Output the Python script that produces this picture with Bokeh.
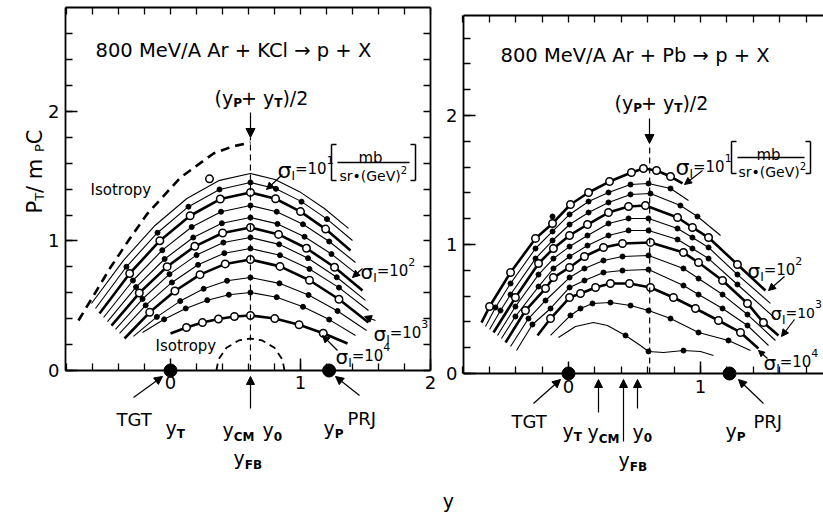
import math
from bokeh.plotting import figure
from bokeh.layouts import row
from bokeh.models import Label, Arrow, NormalHead, FixedTicker, LinearAxis, Range1d
from bokeh.embed import file_html
from bokeh.resources import INLINE

FONT = "DejaVu Sans"

# ---------------- Left panel: 800 MeV/A Ar + KCl -> p + X ----------------
# contour lines of sigma_I, rapidity y and P_T/m_p c (top curve first)
KCL_Y01 = [-0.608, -0.363, -0.119, 0.126, 0.370, 0.615, 0.804, 0.992, 1.181, 1.369]
KCL_P01 = [0.517, 0.849, 1.120, 1.328, 1.466, 1.521, 1.475, 1.381, 1.253, 1.097]
KCL_Y02 = [-0.577, -0.339, -0.100, 0.138, 0.377, 0.615, 0.811, 1.008, 1.204, 1.400]
KCL_P02 = [0.479, 0.801, 1.064, 1.265, 1.398, 1.452, 1.403, 1.304, 1.169, 1.004]
KCL_Y03 = [-0.546, -0.314, -0.082, 0.151, 0.383, 0.615, 0.808, 1.000, 1.193, 1.385]
KCL_P03 = [0.440, 0.749, 1.002, 1.195, 1.324, 1.375, 1.326, 1.227, 1.092, 0.927]
KCL_Y04 = [-0.515, -0.289, -0.063, 0.163, 0.389, 0.615, 0.817, 1.019, 1.221, 1.423]
KCL_P04 = [0.409, 0.695, 0.929, 1.108, 1.226, 1.274, 1.226, 1.129, 0.996, 0.834]
KCL_Y05 = [-0.485, -0.265, -0.045, 0.175, 0.395, 0.615, 0.823, 1.031, 1.238, 1.446]
KCL_P05 = [0.378, 0.644, 0.861, 1.027, 1.137, 1.181, 1.132, 1.033, 0.899, 0.734]
KCL_Y06 = [-0.454, -0.240, -0.026, 0.187, 0.401, 0.615, 0.831, 1.046, 1.262, 1.477]
KCL_P06 = [0.347, 0.598, 0.802, 0.959, 1.062, 1.104, 1.051, 0.944, 0.797, 0.618]
KCL_Y07 = [-0.423, -0.215, -0.008, 0.200, 0.407, 0.615, 0.836, 1.058, 1.279, 1.500]
KCL_P07 = [0.317, 0.552, 0.744, 0.891, 0.988, 1.027, 0.974, 0.867, 0.720, 0.541]
KCL_Y08 = [-0.392, -0.191, 0.011, 0.212, 0.414, 0.615, 0.842, 1.069, 1.296, 1.523]
KCL_P08 = [0.286, 0.503, 0.680, 0.816, 0.906, 0.942, 0.890, 0.784, 0.640, 0.463]
KCL_Y09 = [-0.354, -0.160, 0.034, 0.227, 0.421, 0.615, 0.842, 1.069, 1.296, 1.523]
KCL_P09 = [0.247, 0.449, 0.614, 0.740, 0.823, 0.857, 0.804, 0.697, 0.550, 0.371]
KCL_Y10 = [-0.285, -0.105, 0.075, 0.255, 0.435, 0.615, 0.838, 1.062, 1.285, 1.508]
KCL_P10 = [0.263, 0.414, 0.536, 0.631, 0.693, 0.718, 0.673, 0.583, 0.460, 0.309]
KCL_Y11 = [-0.215, -0.049, 0.117, 0.283, 0.449, 0.615, 0.817, 1.019, 1.221, 1.423]
KCL_P11 = [0.293, 0.395, 0.479, 0.543, 0.585, 0.602, 0.566, 0.492, 0.393, 0.270]
KCL_Y12 = [0.000, 0.123, 0.246, 0.369, 0.492, 0.615, 0.802, 0.989, 1.175, 1.362]
KCL_P12 = [0.286, 0.332, 0.370, 0.398, 0.417, 0.425, 0.401, 0.353, 0.288, 0.208]
KCL_THICK = [False, False, True, False, False, True, False, False, True, False, False, True]
KCL_MARKED = [False] + [True] * 11

KCL_ISO_Y = [-0.708, -0.585, -0.462, -0.323, -0.177, 0.077, 0.331, 0.477, 0.615]
KCL_ISO_P = [0.386, 0.590, 0.795, 1.004, 1.212, 1.490, 1.676, 1.730, 1.761]
KCL_ISO2_Y = [0.353, 0.369, 0.430, 0.525, 0.615, 0.705, 0.800, 0.861, 0.877]
KCL_ISO2_P = [0.0, 0.084, 0.175, 0.232, 0.247, 0.232, 0.175, 0.084, 0.0]
KCL_EXTRA_Y = [0.30]
KCL_EXTRA_P = [1.48]

# ---------------- Right panel: 800 MeV/A Ar + Pb -> p + X ----------------
PB_Y01 = [-0.659, -0.598, -0.439, -0.25, -0.121, 0.015, 0.152, 0.311, 0.477, 0.568, 0.667, 0.773, 0.864]
PB_P01 = [0.395, 0.519, 0.783, 1.047, 1.163, 1.310, 1.403, 1.488, 1.558, 1.589, 1.574, 1.527, 1.473]
PB_Y02 = [-0.629, -0.553, -0.439, -0.25, -0.121, 0.008, 0.152, 0.303, 0.470, 0.606, 0.773, 0.909]
PB_P02 = [0.364, 0.512, 0.698, 0.969, 1.101, 1.233, 1.333, 1.403, 1.465, 1.473, 1.434, 1.341]
PB_Y03 = [-0.598, -0.515, -0.439, -0.25, -0.121, 0.008, 0.152, 0.303, 0.470, 0.621, 0.848, 0.977, 1.152]
PB_P03 = [0.341, 0.488, 0.612, 0.891, 1.031, 1.155, 1.248, 1.326, 1.388, 1.395, 1.302, 1.217, 1.070]
PB_Y04 = [-0.568, -0.402, -0.227, -0.114, 0.008, 0.144, 0.303, 0.455, 0.583, 0.826, 0.939, 1.061, 1.280, 1.492]
PB_P04 = [0.318, 0.589, 0.853, 0.969, 1.070, 1.155, 1.248, 1.295, 1.302, 1.209, 1.132, 1.054, 0.845, 0.643]
PB_Y05 = [-0.538, -0.402, -0.227, -0.114, 0.008, 0.144, 0.303, 0.455, 0.606, 0.826, 0.939, 1.061, 1.280, 1.530]
PB_P05 = [0.295, 0.519, 0.767, 0.891, 0.984, 1.070, 1.163, 1.202, 1.202, 1.124, 1.054, 0.977, 0.767, 0.543]
PB_Y06 = [-0.508, -0.402, -0.227, -0.114, 0.008, 0.144, 0.303, 0.455, 0.606, 0.826, 0.939, 1.061, 1.280, 1.568]
PB_P06 = [0.271, 0.442, 0.674, 0.814, 0.907, 0.992, 1.070, 1.109, 1.109, 1.039, 0.969, 0.891, 0.690, 0.426]
PB_Y07 = [-0.477, -0.326, -0.174, -0.114, 0.008, 0.121, 0.265, 0.409, 0.621, 0.871, 0.985, 1.167, 1.356, 1.477, 1.591]
PB_P07 = [0.240, 0.488, 0.659, 0.744, 0.822, 0.907, 0.977, 1.008, 1.016, 0.938, 0.860, 0.721, 0.543, 0.395, 0.295]
PB_Y08 = [-0.439, -0.303, -0.174, 0.008, 0.121, 0.265, 0.409, 0.606, 0.871, 0.985, 1.167, 1.356, 1.568]
PB_P08 = [0.209, 0.426, 0.566, 0.744, 0.814, 0.876, 0.907, 0.915, 0.814, 0.736, 0.612, 0.457, 0.256]
PB_Y09 = [-0.394, -0.273, -0.136, 0.008, 0.121, 0.265, 0.409, 0.606, 0.871, 0.985, 1.167, 1.356, 1.515]
PB_P09 = [0.178, 0.380, 0.504, 0.667, 0.721, 0.783, 0.798, 0.806, 0.682, 0.612, 0.504, 0.372, 0.217]
PB_Y10 = [-0.235, -0.136, 0.008, 0.091, 0.205, 0.318, 0.462, 0.621, 0.795, 0.962, 1.136, 1.303, 1.439]
PB_P10 = [0.295, 0.426, 0.589, 0.620, 0.667, 0.698, 0.698, 0.667, 0.589, 0.504, 0.411, 0.318, 0.194]
PB_Y11 = [-0.136, 0.015, 0.091, 0.182, 0.318, 0.470, 0.606, 0.773, 0.985, 1.212, 1.379]
PB_P11 = [0.295, 0.450, 0.504, 0.543, 0.550, 0.527, 0.488, 0.426, 0.318, 0.256, 0.178]
PB_Y12 = [-0.076, 0.053, 0.189, 0.295, 0.432, 0.545, 0.606, 0.720, 0.871, 1.000, 1.098]
PB_P12 = [0.279, 0.364, 0.395, 0.372, 0.295, 0.217, 0.171, 0.163, 0.178, 0.171, 0.140]
PB_THICK = [True, False, False, True, False, False, True, False, False, True, False, False]
PB_MARKED = [True] * 11 + [False]
PB_W_DOTS_Y = [0.432, 0.606, 0.871]
PB_W_DOTS_P = [0.295, 0.171, 0.178]
PB_EXTRA_Y = [-0.121]
PB_EXTRA_P = [1.217]

Y_TGT = 0.0
Y_PRJ = 1.22
Y_MID = 0.615

KCL_CURVES = [(KCL_Y01, KCL_P01), (KCL_Y02, KCL_P02), (KCL_Y03, KCL_P03), (KCL_Y04, KCL_P04),
              (KCL_Y05, KCL_P05), (KCL_Y06, KCL_P06), (KCL_Y07, KCL_P07), (KCL_Y08, KCL_P08),
              (KCL_Y09, KCL_P09), (KCL_Y10, KCL_P10), (KCL_Y11, KCL_P11), (KCL_Y12, KCL_P12)]
PB_CURVES = [(PB_Y01, PB_P01), (PB_Y02, PB_P02), (PB_Y03, PB_P03), (PB_Y04, PB_P04),
             (PB_Y05, PB_P05), (PB_Y06, PB_P06), (PB_Y07, PB_P07), (PB_Y08, PB_P08),
             (PB_Y09, PB_P09), (PB_Y10, PB_P10), (PB_Y11, PB_P11), (PB_Y12, PB_P12)]

# ---------------- helpers ----------------
EM = {' ': 0.318, '(': 0.390, ')': 0.390, '+': 0.838, '/': 0.337, '=': 0.838,
      '0': 0.636, '1': 0.636, '2': 0.636, '3': 0.636, '4': 0.636, '8': 0.636,
      'A': 0.684, 'B': 0.686, 'C': 0.698, 'F': 0.575, 'G': 0.775, 'I': 0.295, 'J': 0.295,
      'K': 0.656, 'M': 0.863, 'P': 0.603, 'R': 0.695, 'T': 0.611, 'V': 0.684, 'X': 0.685,
      'b': 0.635, 'e': 0.615, 'l': 0.278, 'm': 0.974, 'p': 0.635, 'r': 0.411, 's': 0.521,
      'y': 0.592, 'o': 0.612, 't': 0.392, 'σ': 0.634, '•': 0.590, '→': 0.838}


def text_w(s, size, bold=False):
    return sum(EM.get(ch, 0.62) for ch in s) * size * (1.1 if bold else 1.0)


# reference-pixel -> panel data coordinates (for annotation placement)
def c1(px, py):
    return ((px - 170) / 130.0, (370 - py) / 129.5)


def c2(px, py):
    return ((px - 568) / 132.0, (373 - py) / 129.0)


def put(p, conv, px, py, text, size, bold=False, align="left", angle=0.0):
    x, y = conv(px, py)
    p.add_layout(Label(x=x, y=y, text=text, text_font=FONT, text_font_size=f"{size}px",
                       text_font_style="bold" if bold else "normal", text_align=align,
                       text_baseline="alphabetic", angle=angle, text_color="black"))


def rich(p, conv, px, py, pieces):
    off = 0.0
    for piece in pieces:
        text, size, dy = piece[0], piece[1], piece[2]
        bold = piece[3] if len(piece) > 3 else False
        put(p, conv, px + off, py - dy, text, size, bold)
        off += text_w(text, size, bold)


def arrow(p, conv, a, b, head=True, width=1.2, hs=8):
    x0, y0 = conv(*a)
    x1, y1 = conv(*b)
    p.add_layout(Arrow(x_start=x0, y_start=y0, x_end=x1, y_end=y1, line_width=width,
                       line_color="black",
                       end=NormalHead(size=hs, fill_color="black", line_color="black",
                                      line_width=1) if head else None))


X_MINOR = [-0.8, -0.6, -0.4, -0.2, 0, 0.2, 0.4, 0.6, 0.8, 1.0, 1.2, 1.4, 1.6, 1.8, 2.0]
Y_MINOR = [0, 0.2, 0.4, 0.6, 0.8, 1.0, 1.2, 1.4, 1.6, 1.8, 2.0, 2.2, 2.4, 2.6]


def make_fig(width, xr, yr, box, right_axis):
    x0, x1, y0, y1 = box
    p = figure(width=width, height=514, x_range=Range1d(*xr), y_range=Range1d(*yr),
               output_backend="svg", toolbar_location=None,
               x_axis_location=None, y_axis_location=None,
               min_border_left=0, min_border_right=0, min_border_top=0, min_border_bottom=0)
    p.xgrid.visible = False
    p.ygrid.visible = False
    p.outline_line_color = None
    specs = [("below", [0, 1, 2], X_MINOR, y0, (x0, x1), True),
             ("above", [], X_MINOR, y1, (x0, x1), False),
             ("left", [0, 1, 2], Y_MINOR, x0, (y0, y1), True)]
    if right_axis:
        specs.append(("right", [], Y_MINOR, x1, (y0, y1), False))
    for side, major, minor, loc, bnds, lab in specs:
        ax = LinearAxis(ticker=FixedTicker(ticks=major, minor_ticks=minor),
                        fixed_location=loc, bounds=bnds)
        ax.axis_line_width = 1.8
        ax.axis_line_color = "black"
        ax.major_tick_in = 12
        ax.major_tick_out = 0
        ax.minor_tick_in = 7
        ax.minor_tick_out = 0
        ax.major_tick_line_width = 1.5
        ax.minor_tick_line_width = 1.3
        ax.major_label_overrides = {0: "0", 1: "1", 2: "2"}
        ax.major_label_text_font = FONT
        ax.major_label_text_font_size = "18px"
        ax.major_label_text_color = "black"
        ax.major_label_standoff = 6
        p.add_layout(ax, side)
    return p


def draw_curves(p, curves, thick, marked):
    for i, (xs, ys) in enumerate(curves):
        p.line(xs, ys, line_color="black", line_width=2.6 if thick[i] else 1.1)
    for i, (xs, ys) in enumerate(curves):
        if not marked[i]:
            continue
        mx, my = xs[1:-1], ys[1:-1]
        if thick[i]:
            p.scatter(mx, my, marker="circle", size=7.5, fill_color="white",
                      line_color="black", line_width=1.5)
        else:
            p.scatter(mx, my, marker="circle", size=5, fill_color="black",
                      line_color="black")


def sigma_label(p, conv, px, py, sup, big=20, mid=15):
    rich(p, conv, px, py, [("σ", big, 0), ("I", 12, -6), ("=10", mid, 1), (sup, 11, 10)])


def unit_bracket(p, conv, xl, xr, yt, yb, mb_x, mb_y, line_y, den_x, den_y):
    for a, b in [((xl + 5, yt), (xl, yt)), ((xl, yt), (xl, yb)), ((xl, yb), (xl + 5, yb)),
                 ((xr - 5, yt), (xr, yt)), ((xr, yt), (xr, yb)), ((xr, yb), (xr - 5, yb))]:
        arrow(p, conv, a, b, head=False, width=1.5)
    put(p, conv, mb_x, mb_y, "mb", 15, align="center")
    arrow(p, conv, (xl + 6, line_y), (xr - 6, line_y), head=False, width=1.4)
    rich(p, conv, den_x, den_y, [("sr•(GeV)", 14, 0), ("2", 10, 6)])


# ---------------- left figure (canvas = page x 0..438, y 0..514) ----------------
p1 = make_fig(438, (-1.3077, 2.0615), (-1.1120, 2.8571), (-0.8077, 2.0, 0.0, 2.80), True)
draw_curves(p1, KCL_CURVES, KCL_THICK, KCL_MARKED)
p1.scatter(KCL_EXTRA_Y, KCL_EXTRA_P, marker="circle", size=7.5, fill_color="white",
           line_color="black", line_width=1.5)
p1.line(KCL_ISO_Y, KCL_ISO_P, line_color="black", line_width=2.6, line_dash="9 6")
p1.line(KCL_ISO2_Y, KCL_ISO2_P, line_color="black", line_width=1.8, line_dash="7 5")
p1.line([Y_MID, Y_MID], [0, 1.80], line_color="black", line_width=1.2, line_dash="6 4")
p1.scatter([Y_TGT, Y_PRJ], [0, 0], marker="circle", size=13, color="black")

put(p1, c1, 95, 50, "800 MeV/A  Ar + KCl → p + X", 19.5)
rich(p1, c1, 214, 98, [("(y", 19, 0), ("P", 12, -5, True), ("+ y", 19, 0),
                       ("T", 12, -5, True), (")/2", 19, 0)])
arrow(p1, c1, (250, 112), (250, 137), hs=9)
# rotated y-axis title
off = 0.0
for text, size, sub in [("P", 21, False), ("T", 13, True), (" / m", 21, False),
                        ("P", 13, True), (" C", 21, False)]:
    put(p1, c1, 34 + (5 if sub else 0), 213 - off, text, size, angle=math.pi / 2)
    off += text_w(text, size)
put(p1, c1, 90, 190, "Isotropy", 15)
put(p1, c1, 155, 346, "Isotropy", 15)
sigma_label(p1, c1, 277, 170, "1", 22)
unit_bracket(p1, c1, 331, 415, 144, 180, 370, 158, 162, 339, 176)
arrow(p1, c1, (282, 174), (266, 189), hs=7)
sigma_label(p1, c1, 360, 272, "2")
arrow(p1, c1, (362, 268), (352, 277), hs=7)
sigma_label(p1, c1, 373, 334, "3")
arrow(p1, c1, (375, 320), (364, 316), hs=7)
sigma_label(p1, c1, 335, 357, "4")
arrow(p1, c1, (337, 350), (322, 335), hs=7)
# below axis
put(p1, c1, 116, 419, "TGT", 18)
arrow(p1, c1, (133, 397), (162, 376))
rich(p1, c1, 165, 428, [("y", 19, 0), ("T", 12, -6, True)])
rich(p1, c1, 222, 430, [("y", 19, 0), ("CM", 12, -7, True)])
rich(p1, c1, 262, 430, [("y", 19, 0), ("0", 12, -6, True)])
rich(p1, c1, 233, 458, [("y", 19, 0), ("FB", 12, -7, True)])
arrow(p1, c1, (250, 408), (250, 376))
rich(p1, c1, 323, 428, [("y", 19, 0), ("P", 12, -6, True)])
put(p1, c1, 347, 418, "PRJ", 18)
arrow(p1, c1, (359, 395), (335, 376))

# ---------------- right figure (canvas = page x 438..823, y 0..514) ----------------
p2 = make_fig(385, (-0.9848, 1.9318), (-1.0930, 2.8915), (-0.7955, 1.9318, 0.0, 2.7752), False)
draw_curves(p2, PB_CURVES, PB_THICK, PB_MARKED)
p2.scatter(PB_W_DOTS_Y, PB_W_DOTS_P, marker="circle", size=5, color="black")
p2.scatter(PB_EXTRA_Y, PB_EXTRA_P, marker="circle", size=5, color="black")
p2.line([Y_MID, Y_MID], [0, 1.78], line_color="black", line_width=1.2, line_dash="6 4")
p2.scatter([Y_TGT, Y_PRJ], [0, 0], marker="circle", size=13, color="black")

put(p2, c2, 500, 55, "800 MeV/A  Ar + Pb  →  p + X", 19.5)
rich(p2, c2, 614, 102, [("(y", 19, 0), ("P", 12, -5, True), ("+ y", 19, 0),
                        ("T", 12, -5, True), (")/2", 19, 0)])
arrow(p2, c2, (649, 118), (649, 143), hs=9)
sigma_label(p2, c2, 675, 167, "1", 22)
unit_bracket(p2, c2, 731, 810, 141, 173, 768, 154, 157, 738, 171)
arrow(p2, c2, (702, 170), (684, 184), hs=7)
sigma_label(p2, c2, 747, 270, "2")
arrow(p2, c2, (784, 276), (768, 290), hs=7)
sigma_label(p2, c2, 770, 313, "3", 18, 14)
arrow(p2, c2, (794, 319), (781, 336), hs=7)
sigma_label(p2, c2, 763, 362, "4")
arrow(p2, c2, (767, 358), (758, 350), hs=6)
put(p2, c2, 511, 421, "TGT", 18)
arrow(p2, c2, (533, 403), (560, 379))
rich(p2, c2, 562, 430, [("y", 19, 0), ("T", 12, -6, True)])
rich(p2, c2, 587, 431, [("y", 19, 0), ("CM", 12, -7, True)])
rich(p2, c2, 632, 431, [("y", 19, 0), ("0", 12, -6, True)])
rich(p2, c2, 618, 459, [("y", 19, 0), ("FB", 12, -7, True)])
arrow(p2, c2, (598, 412), (598, 379))
arrow(p2, c2, (623, 441), (623, 379))
arrow(p2, c2, (637, 408), (637, 379))
rich(p2, c2, 725, 430, [("y", 19, 0), ("P", 12, -6, True)])
put(p2, c2, 753, 421, "PRJ", 18)
arrow(p2, c2, (763, 403), (738, 379))
put(p2, c2, 448, 500, "y", 19, align="center")

layout = row(p1, p2, spacing=0)
open("out.html", "w").write(file_html(layout, INLINE))
